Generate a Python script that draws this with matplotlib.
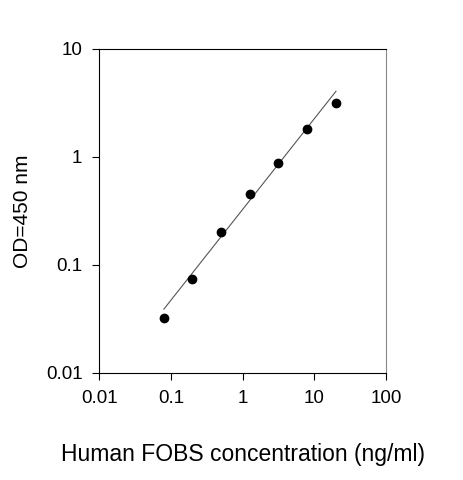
import matplotlib
matplotlib.use("Agg")
import matplotlib.pyplot as plt
import numpy as np

conc = [0.08, 0.2, 0.5, 1.25, 3.125, 7.8, 20]
od = [0.032, 0.074, 0.20, 0.45, 0.88, 1.8, 3.16]
xticks = [0.01, 0.1, 1, 10, 100]
xticklabels = ["0.01", "0.1", "1", "10", "100"]
yticks = [0.01, 0.1, 1, 10]
yticklabels = ["0.01", "0.1", "1", "10"]

plt.rcParams['font.family'] = ['Liberation Sans', 'DejaVu Sans']
fig = plt.figure(figsize=(4.63, 4.80), dpi=100)
ax = fig.add_axes([0.214, 0.223, 0.62, 0.675])
ax.set_xscale('log'); ax.set_yscale('log')
ax.set_xlim(0.01, 100); ax.set_ylim(0.01, 10)
p = np.polyfit(np.log10(conc), np.log10(od), 1)
lx = np.array([conc[0], conc[-1]])
ax.plot(lx, 10**np.polyval(p, np.log10(lx)) * 1.05, color='#555555', lw=0.8)
ax.plot(conc, od, 'o', color='black', ms=6)
ax.set_xticks(xticks); ax.set_xticklabels(xticklabels)
ax.set_yticks(yticks); ax.set_yticklabels(yticklabels)
ax.minorticks_off()
ax.tick_params(labelsize=13.5, direction='out', length=5, pad=7)
ax.spines['right'].set_color('#888888')
ax.set_ylabel("OD=450 nm", fontsize=15, labelpad=10)
ax.set_xlabel("Human FOBS concentration (ng/ml)", fontsize=16.5, labelpad=26)
fig.savefig("out.png", dpi=100, facecolor='white')
